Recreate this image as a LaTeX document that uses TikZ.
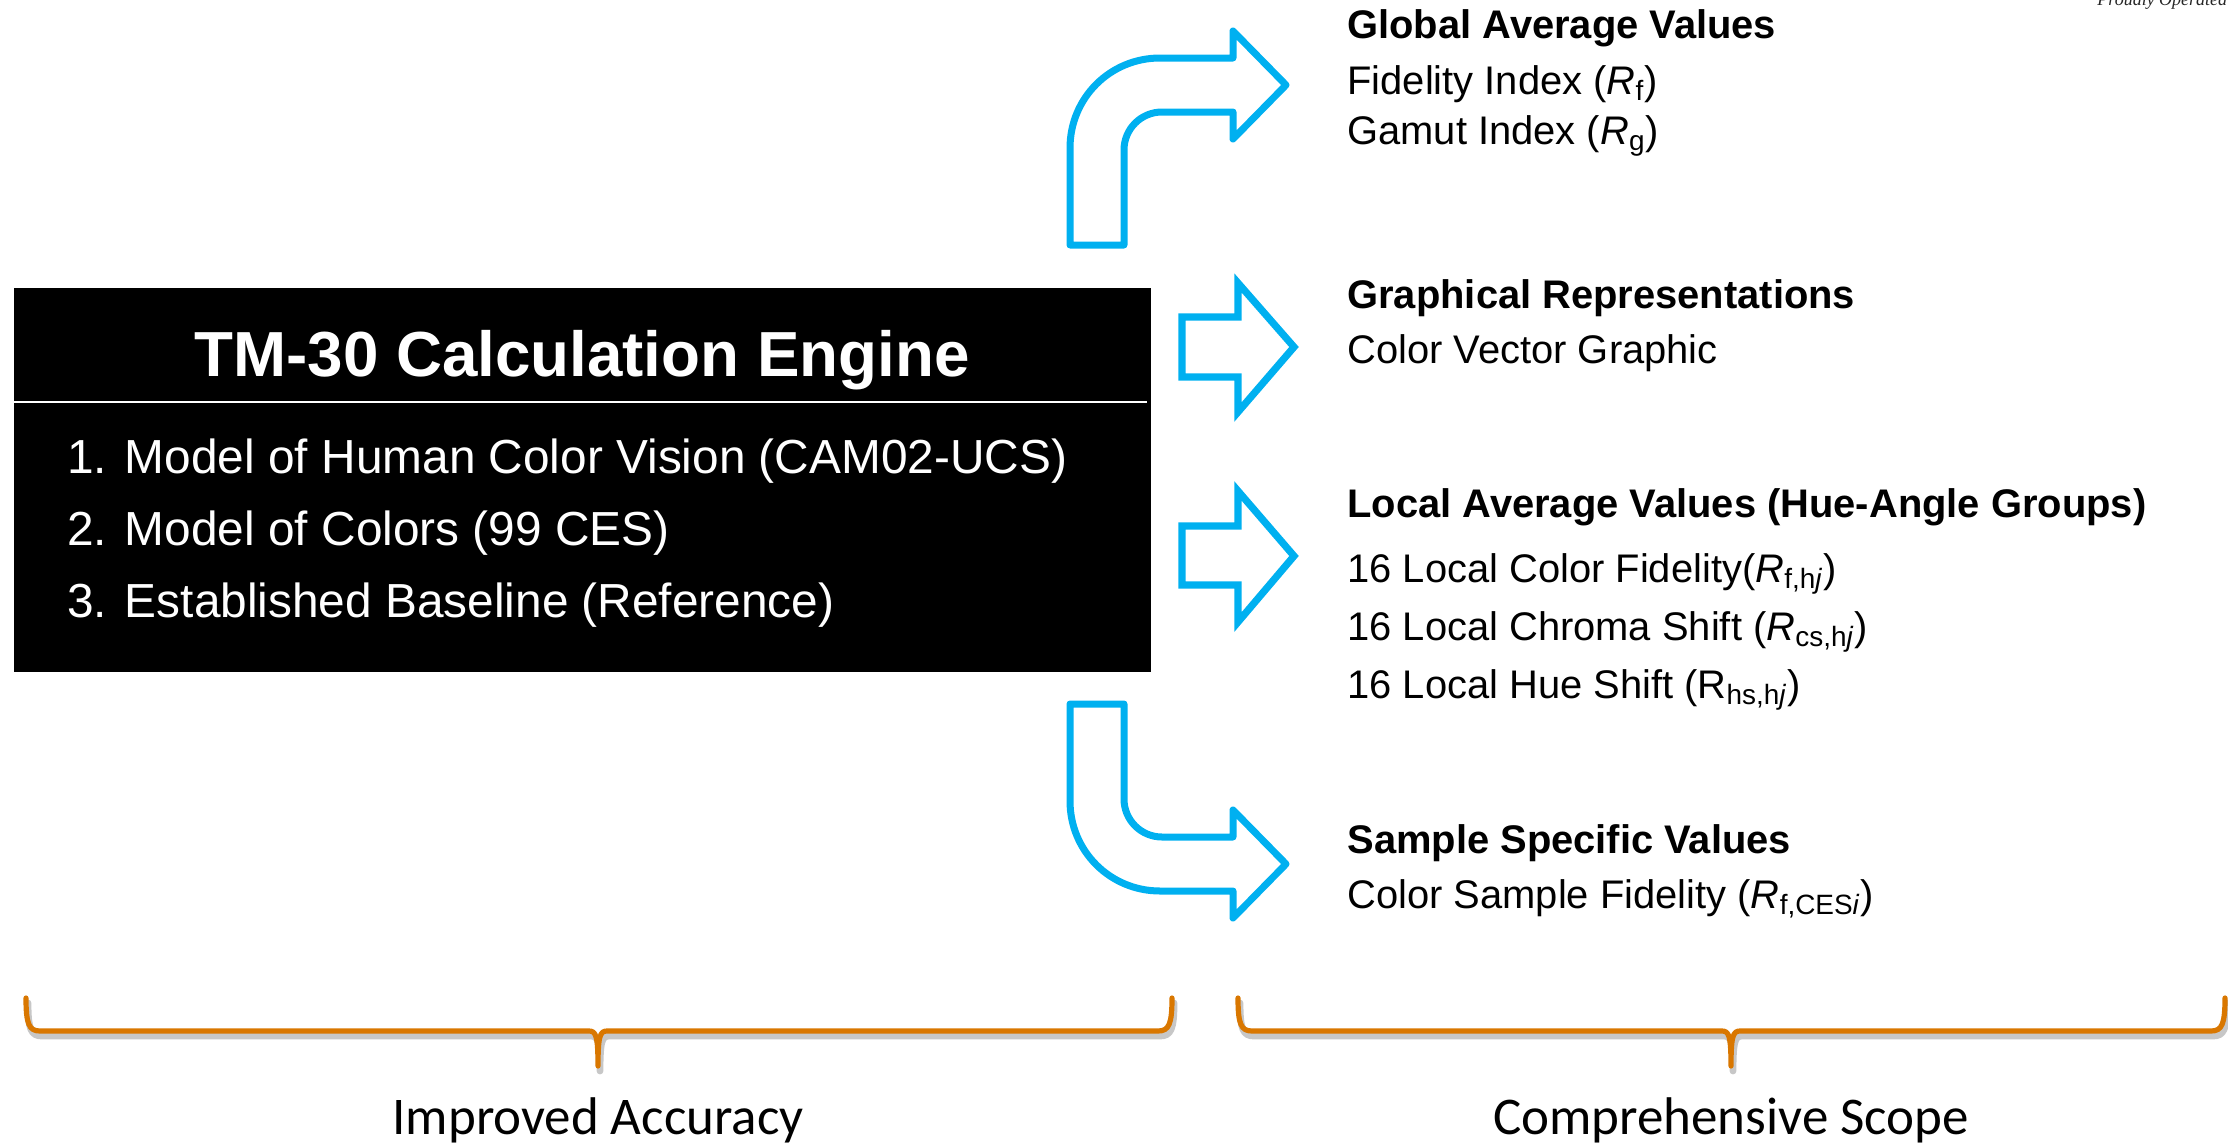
\documentclass[tikz,border=0pt]{standalone}
\usepackage{fontspec}
\setmainfont{Liberation Sans}
\newfontfamily\calibrifont{Carlito}
\newfontfamily\serifitfont{Liberation Serif}
\definecolor{arrowblue}{HTML}{00B0F0}
\definecolor{braceorange}{HTML}{D97700}
\begin{document}
\begin{tikzpicture}[x=0.5pt,y=-0.5pt,
  curvearrow/.style={draw=arrowblue, line width=3.5pt, line join=round, fill=white},
  straightarrow/.style={draw=arrowblue, line width=3.6pt, line join=miter, fill=white},
  bracestyle/.style={draw=braceorange, line width=2.6pt, line cap=round, line join=round},
  braceshadow/.style={draw=black, opacity=0.22, line width=3.4pt, line cap=round, line join=round},
  engbox/.style={fill=black, inner sep=0pt, minimum width=568.5pt, minimum height=192pt},
  titletext/.style={anchor=base, inner sep=0pt, text=white, font=\fontsize{31.85pt}{38pt}\selectfont\bfseries},
  itemtext/.style={anchor=base west, inner sep=0pt, text=white, font=\fontsize{23.9pt}{28pt}\selectfont},
  headtext/.style={anchor=base west, inner sep=0pt, font=\fontsize{19.95pt}{23pt}\selectfont\bfseries},
  rtext/.style={anchor=base west, inner sep=0pt, font=\fontsize{19.95pt}{23pt}\selectfont},
  bottomlabel/.style={anchor=base, inner sep=0pt, font=\calibrifont\fontsize{26.5pt}{32pt}\selectfont},
  cornertext/.style={anchor=base west, inner sep=0pt, font=\serifitfont\itshape\fontsize{9pt}{11pt}\selectfont, text=black!85}
]
\useasboundingbox (0,0) rectangle (2228,1146);

% engine box
\node[engbox] (engine) at (582.5,480) {};
\draw[white, line width=1pt] (engine.west |- 0,402) -- (1147,402);
\node[titletext] (title) at (582,376) {TM-30 Calculation Engine};
\node[itemtext] (item1) at (67,473) {1. Model of Human Color Vision (CAM02-UCS)};
\node[itemtext] (item2) at (67,545) {2. Model of Colors (99 CES)};
\node[itemtext] (item3) at (67,617) {3. Established Baseline (Reference)};

% block arrows
\draw[curvearrow] (1070,245) -- (1070,148) .. controls (1070,98) and (1110,58) .. (1160,58)
  -- (1233,58) -- (1233,31) -- (1286,85) -- (1233,139) -- (1233,112) -- (1162,112)
  .. controls (1141,112) and (1124,129) .. (1124,150) -- (1124,245) -- cycle;
\draw[straightarrow] (1182,317) -- (1238,317) -- (1238,283) -- (1294,347) -- (1238,412)
  -- (1238,377) -- (1182,377) -- cycle;
\draw[straightarrow] (1182,526) -- (1238,526) -- (1238,491) -- (1294,556) -- (1238,622)
  -- (1238,585) -- (1182,585) -- cycle;
\draw[curvearrow] (1070,704) -- (1070,801) .. controls (1070,851) and (1110,891) .. (1160,891)
  -- (1233,891) -- (1233,918) -- (1286,864) -- (1233,810) -- (1233,837) -- (1162,837)
  .. controls (1141,837) and (1124,820) .. (1124,799) -- (1124,704) -- cycle;

% right texts
\node[headtext] (gav) at (1347,38) {Global Average Values};
\node[rtext] (fid) at (1347,94) {Fidelity Index (\textit{R}\textsubscript{f})};
\node[rtext] (gam) at (1347,144) {Gamut Index (\textit{R}\textsubscript{g})};
\node[headtext] (grep) at (1347,308) {Graphical Representations};
\node[rtext] (cvg) at (1347,363) {Color Vector Graphic};
\node[headtext] (lav) at (1347,517) {Local Average Values (Hue-Angle Groups)};
\node[rtext] (lcf) at (1347,582) {16 Local Color Fidelity(\textit{R}\textsubscript{f,h\textit{j}})};
\node[rtext] (lcs) at (1347,640) {16 Local Chroma Shift (\textit{R}\textsubscript{cs,h\textit{j}})};
\node[rtext] (lhs) at (1347,698) {16 Local Hue Shift (R\textsubscript{hs,h\textit{j}})};
\node[headtext] (ssv) at (1347,853) {Sample Specific Values};
\node[rtext] (csf) at (1347,908) {Color Sample Fidelity (\textit{R}\textsubscript{f,CES\textit{i}})};

% braces
\foreach \xa/\xm/\xb in {26/598/1172, 1238/1731/2225} {
  \draw[braceshadow, shift={(2,5)}] (\xa,998) .. controls (\xa,1024) and ({\xa+3},1031) .. ({\xa+14},1031)
    -- ({\xm-9},1031) .. controls ({\xm-2},1031) and (\xm,1036) .. (\xm,1066)
    .. controls (\xm,1036) and ({\xm+2},1031) .. ({\xm+9},1031)
    -- ({\xb-14},1031) .. controls ({\xb-3},1031) and (\xb,1024) .. (\xb,998);
  \draw[bracestyle] (\xa,998) .. controls (\xa,1024) and ({\xa+3},1031) .. ({\xa+14},1031)
    -- ({\xm-9},1031) .. controls ({\xm-2},1031) and (\xm,1036) .. (\xm,1066)
    .. controls (\xm,1036) and ({\xm+2},1031) .. ({\xm+9},1031)
    -- ({\xb-14},1031) .. controls ({\xb-3},1031) and (\xb,1024) .. (\xb,998);
}

\node[bottomlabel] (acc) at (598,1134) {Improved Accuracy};
\node[bottomlabel] (scope) at (1731,1134) {Comprehensive Scope};

% cut-off corner text
\begin{scope}
\clip (0,0) rectangle (2228,1146);
\node[cornertext] (corner) at (2097,5) {Proudly Operated};
\end{scope}
\end{tikzpicture}
\end{document}
